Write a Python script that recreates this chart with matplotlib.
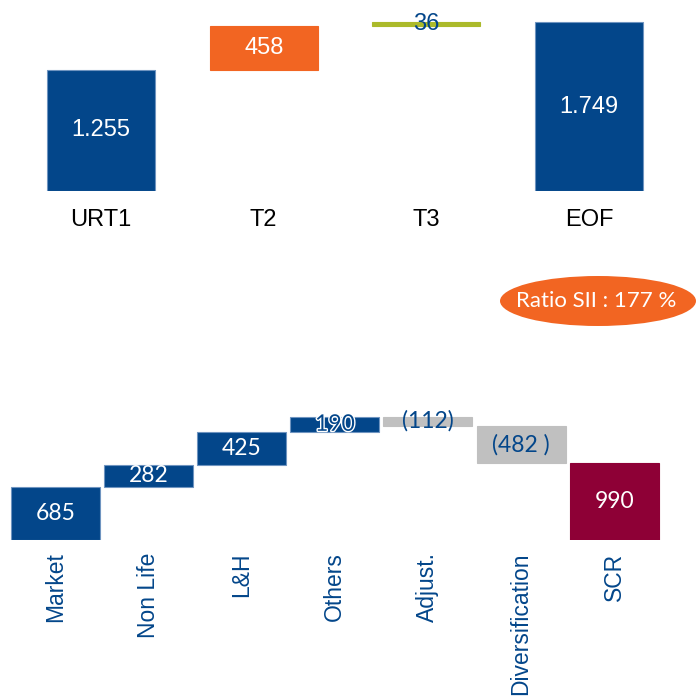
import matplotlib
matplotlib.use("Agg")
import matplotlib.pyplot as plt
import matplotlib.patheffects as pe
from matplotlib.patches import Ellipse
import numpy as np

# ---------------- data ----------------
top_categories = ["URT1", "T2", "T3", "EOF"]
top_values = [1255, 458, 36, 1749]
top_kinds = ["total", "step", "step", "total"]

bottom_categories = ["Market", "Non Life", "L&H", "Others", "Adjust.", "Diversification", "SCR"]
bottom_values = [685, 282, 425, 190, -112, -482, 990]
bottom_kinds = ["step", "step", "step", "step", "step", "step", "total"]
bottom_labels = ["685", "282", "425", "190", "(112)", "(482 )", "990"]

ratio_text = "Ratio SII : 177 %"

# ---------------- styles ----------------
BLUE = "#03468A"
BLUE_EDGE = "#6F94C0"
ORANGE = "#F26522"
GREEN = "#ABBA2A"
GREY = "#C0C0C0"
MAROON = "#8E0036"

top_colors = [BLUE, ORANGE, GREEN, BLUE]
top_text_colors = ["white", "white", BLUE, "white"]
bottom_colors = [BLUE, BLUE, BLUE, BLUE, GREY, GREY, MAROON]
bottom_text_colors = ["white", "white", "white", BLUE, BLUE, BLUE, "white"]

W, H = 696, 699
fig = plt.figure(figsize=(W / 100, H / 100), dpi=100)


def waterfall(values, kinds):
    bottoms, heights = [], []
    run = 0
    for v, k in zip(values, kinds):
        if k == "total":
            bottoms.append(0)
            heights.append(v)
            run = v
        else:
            if v >= 0:
                bottoms.append(run)
                heights.append(v)
            else:
                bottoms.append(run + v)
                heights.append(-v)
            run += v
    return np.array(bottoms), np.array(heights)


def clean(ax):
    for s in ax.spines.values():
        s.set_visible(False)
    ax.set_yticks([])
    ax.tick_params(axis="x", length=0)
    ax.patch.set_alpha(0)


# ---------------- top chart ----------------
base_top = 191
ax1 = fig.add_axes([0, (H - base_top) / H, 1, base_top / H])
spacing = 162.7
c0 = 101
ax1.set_xlim(-c0 / spacing, (W - c0) / spacing)
ax1.set_ylim(0, base_top / 0.0966)
b, h = waterfall(top_values, top_kinds)
x = np.arange(len(top_values))
edges = [BLUE_EDGE, ORANGE, GREEN, BLUE_EDGE]
ax1.bar(x, h, bottom=b, width=108 / spacing, color=top_colors,
        edgecolor=edges, linewidth=0.8)
for xi, bi, hi, v, tc in zip(x, b, h, top_values, top_text_colors):
    ax1.text(xi, bi + hi / 2, f"{v:,}".replace(",", "."), ha="center", va="center",
             color=tc, fontsize=17, family="Liberation Sans")
ax1.set_xticks(x)
ax1.set_xticklabels(top_categories, fontsize=17, family="Liberation Sans", color="black")
ax1.tick_params(axis="x", pad=13)
clean(ax1)

# ---------------- bottom chart ----------------
base_bot = 540
ax2_h = 290
ax2 = fig.add_axes([0, (H - base_bot) / H, 1, ax2_h / H])
sp2 = 93.1
c2 = 55.5
ax2.set_xlim(-c2 / sp2, (W - c2) / sp2)
ax2.set_ylim(0, ax2_h / 0.0778)
b2, h2 = waterfall(bottom_values, bottom_kinds)
x2 = np.arange(len(bottom_values))
edges2 = [BLUE_EDGE] * 4 + [GREY, GREY, MAROON]
ax2.bar(x2, h2, bottom=b2, width=89 / sp2, color=bottom_colors,
        edgecolor=edges2, linewidth=0.8)
for i, (xi, bi, hi, lab, tc) in enumerate(zip(x2, b2, h2, bottom_labels, bottom_text_colors)):
    t = ax2.text(xi, bi + hi / 2, lab, ha="center", va="center",
                 color=tc, fontsize=16.5, family="Lato")
    if bottom_categories[i] == "Others":
        t.set_path_effects([pe.withStroke(linewidth=2, foreground="white")])
ax2.set_xticks(x2)
ax2.set_xticklabels(bottom_categories, fontsize=16.5, family="Liberation Sans",
                    color=BLUE, rotation=90)
ax2.tick_params(axis="x", pad=9)
clean(ax2)

# ---------------- ratio ellipse ----------------
ell = Ellipse((598 / W, 1 - 301 / H), 196 / W, 50 / H, transform=fig.transFigure,
              facecolor=ORANGE, edgecolor="none")
fig.patches.append(ell)
fig.text(596 / W, 1 - 301 / H, ratio_text, ha="center", va="center",
         color="white", fontsize=16, family="Lato")

fig.savefig("out.png", dpi=100)
